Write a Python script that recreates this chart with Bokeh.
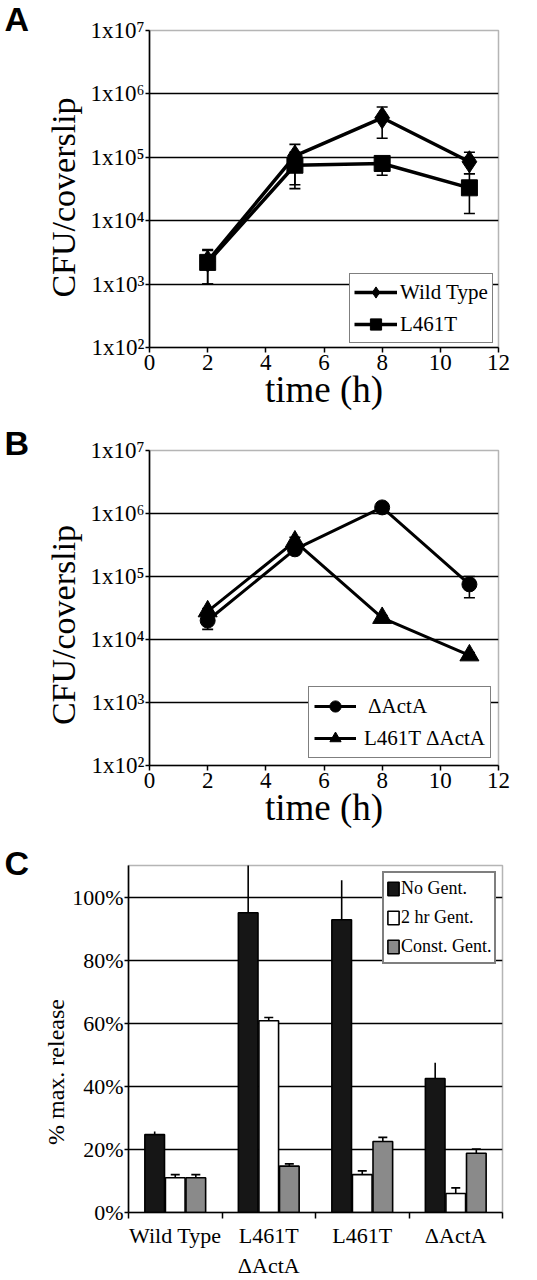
from bokeh.plotting import figure
from bokeh.models import (FixedTicker, Whisker, TeeHead, ColumnDataSource, Legend,
                          LegendItem, Range1d)
from bokeh.embed import file_html
from bokeh.resources import INLINE

SERIF = "Liberation Serif"
SANS = "Liberation Sans"
NBSP = "\u00a0"

# ---------------- data ----------------
time_h = [2, 5, 8, 11]

# Panel A
wt_cfu = [2300, 105000, 420000, 85000]
wt_hi = [3500, 160000, 620000, 120000]
wt_lo = [1000, 37000, 200000, 55000]
l461t_cfu = [2200, 75000, 80000, 33000]
l461t_hi = [3400, 120000, 100000, 55000]
l461t_lo = [1000, 32000, 52000, 13000]

# Panel B
dacta_cfu = [20000, 270000, 1250000, 75000]
dacta_hi = [24000, 310000, 1400000, 100000]
dacta_lo = [14500, 240000, 1100000, 46000]
l461t_dacta_cfu = [28000, 360000, 22000, 5600]
l461t_dacta_hi = [31000, 420000, 24000, 6200]
l461t_dacta_lo = [25000, 330000, 20000, 5100]

log_ticks = [1e2, 1e3, 1e4, 1e5, 1e6, 1e7]
log_tick_labels = ["1x10\u00b2", "1x10\u00b3", "1x10\u2074", "1x10\u2075", "1x10\u2076", "1x10\u2077"]
time_ticks = [0, 2, 4, 6, 8, 10, 12]

# Panel C
strains = ["Wild Type", "L461T\n\u0394ActA", "L461T", "\u0394ActA"]
treatments = ["No Gent.", "2 hr Gent.", "Const. Gent."]
no_gent = [24.7, 95.0, 92.8, 42.5]
no_gent_err = [1.0, 20.0, 12.5, 5.0]
two_hr_gent = [11.0, 60.8, 12.0, 6.0]
two_hr_gent_err = [1.0, 1.0, 1.2, 1.8]
const_gent = [11.0, 14.7, 22.5, 18.8]
const_gent_err = [1.0, 0.7, 1.3, 1.3]
pct_ticks = [0, 20, 40, 60, 80, 100]
pct_labels = ["0%", "20%", "40%", "60%", "80%", "100%"]

W = 537


def style_axes(p, tick_size, label_size):
    for ax in (p.xaxis[0], p.yaxis[0]):
        ax.axis_line_color = "black"
        ax.axis_line_width = 1.6
        ax.major_tick_line_color = "black"
        ax.major_tick_line_width = 1.5
        ax.major_tick_in = 0
        ax.major_tick_out = 5
        ax.minor_tick_line_color = None
        ax.major_label_text_font = SERIF
        ax.major_label_text_font_size = tick_size
        ax.major_label_text_color = "black"
        ax.axis_label_text_font = SERIF
        ax.axis_label_text_font_style = "normal"
        ax.axis_label_text_font_size = label_size
        ax.axis_label_text_color = "black"
    p.outline_line_color = "#b5b5b5"
    p.outline_line_width = 1.5
    p.background_fill_color = "white"
    p.border_fill_color = "white"


def panel_letter(p, text, offset, standoff):
    p.title.text = text
    p.title.align = "left"
    p.title.offset = offset
    p.title.standoff = standoff
    p.title.text_font = SANS
    p.title.text_font_style = "bold"
    p.title.text_font_size = "34px"
    p.title.text_color = "black"


def log_panel(height, top, bottom, series, legend_loc, legend_pad, glyph_w, standoff, ypad):
    p = figure(width=W, height=height, y_axis_type="log",
               x_range=Range1d(0, 12), y_range=Range1d(1e2, 1e7),
               output_backend="svg", toolbar_location=None,
               min_border_left=149, min_border_right=39,
               min_border_top=top, min_border_bottom=bottom)
    style_axes(p, "23px", "37px")
    p.xaxis.ticker = FixedTicker(ticks=time_ticks)
    p.yaxis.ticker = FixedTicker(ticks=log_ticks)
    p.yaxis.major_label_overrides = dict(zip(log_ticks, log_tick_labels))
    p.yaxis.major_label_standoff = 1
    p.yaxis.major_tick_out = 4
    p.xaxis.major_label_standoff = 2
    p.xaxis.axis_label = "time (h)"
    p.xaxis.axis_label_standoff = -4
    p.yaxis.axis_label = "CFU/coverslip" + NBSP * ypad
    p.yaxis.axis_label_text_font_size = "34px"
    p.yaxis.axis_label_standoff = 5
    p.xgrid.visible = False
    p.ygrid.ticker = FixedTicker(ticks=log_ticks[1:-1])
    p.ygrid.grid_line_color = "black"
    p.ygrid.grid_line_width = 1.6

    items = []
    for name, ys, hi, lo, marker, msize, lw in series:
        src = ColumnDataSource(dict(x=time_h, y=ys, hi=hi, lo=lo))
        p.add_layout(Whisker(source=src, base="x", upper="hi", lower="lo",
                             line_color="black", line_width=1.6,
                             upper_head=TeeHead(size=11, line_color="black", line_width=1.6),
                             lower_head=TeeHead(size=11, line_color="black", line_width=1.6)))
        lr = p.line("x", "y", source=src, line_color="black", line_width=lw)
        sr = p.scatter("x", "y", source=src, marker=marker, size=msize,
                       fill_color="black", line_color="black")
        items.append(LegendItem(label=name, renderers=[lr, sr]))
    leg = Legend(items=items, location=legend_loc,
                 label_text_font=SERIF, label_text_font_size="21px",
                 label_text_color="black", glyph_width=glyph_w, glyph_height=28,
                 label_height=28, spacing=4, padding=legend_pad, margin=0,
                 label_standoff=standoff, border_line_color="black", border_line_width=1.6,
                 background_fill_color="white", background_fill_alpha=1.0)
    p.add_layout(leg)
    return p


pA = log_panel(425, 30, 78,
               [("Wild Type", wt_cfu, wt_hi, wt_lo, "diamond", 22, 3.5),
                ("L461T", l461t_cfu, l461t_hi, l461t_lo, "square", 16, 3.5)],
               (200, 4), 4, 43, 3, 2)
panel_letter(pA, "A", -145, -15)

pB = log_panel(408, 25, 68,
               [(" \u0394ActA", dacta_cfu, dacta_hi, dacta_lo, "circle", 15, 3.0),
                ("L461T \u0394ActA", l461t_dacta_cfu, l461t_dacta_hi, l461t_dacta_lo,
                 "triangle", 19, 3.0)],
               (159, 7), 5, 42, 8, 4)
panel_letter(pB, "B", -145, -23)

# ---------------- panel C ----------------
pC = figure(width=W, height=447, x_range=Range1d(0, 4), y_range=Range1d(0, 110),
            output_backend="svg", toolbar_location=None,
            min_border_left=128, min_border_right=35, min_border_top=32,
            min_border_bottom=63)
style_axes(pC, "22px", "24px")
centers = [i + 0.5 for i in range(len(strains))]
pC.xaxis.ticker = FixedTicker(ticks=centers, minor_ticks=list(range(len(strains) + 1)))
pC.xaxis.major_label_overrides = dict(zip(centers, strains))
pC.xaxis.major_tick_out = 0
pC.xaxis.minor_tick_line_color = "black"
pC.xaxis.minor_tick_line_width = 1.5
pC.xaxis.minor_tick_in = 0
pC.xaxis.minor_tick_out = 6
pC.xaxis.major_label_text_font_size = "22px"
pC.xaxis.major_label_standoff = 4
pC.yaxis.ticker = FixedTicker(ticks=pct_ticks)
pC.yaxis.major_label_overrides = dict(zip(pct_ticks, pct_labels))
pC.yaxis.major_label_standoff = 1
pC.yaxis.major_tick_out = 4
pC.yaxis.axis_label = "% max. release" + NBSP * 11
pC.yaxis.axis_label_standoff = 0
pC.xgrid.visible = False
pC.ygrid.ticker = FixedTicker(ticks=pct_ticks[1:])
pC.ygrid.grid_line_color = "black"
pC.ygrid.grid_line_width = 1.6

offsets = [-0.22, 0.0, 0.22]
fills = ["#161616", "white", "#8a8a8a"]
vals = [no_gent, two_hr_gent, const_gent]
errs = [no_gent_err, two_hr_gent_err, const_gent_err]
citems = []
for k, (name, v, e, fc, off) in enumerate(zip(treatments, vals, errs, fills, offsets)):
    xs = [c + off for c in centers]
    hi = [a + b for a, b in zip(v, e)]
    lo = list(v) if k == 0 else [a - b for a, b in zip(v, e)]
    src = ColumnDataSource(dict(x=xs, top=v, hi=hi, lo=lo))
    r = pC.vbar(x="x", top="top", width=0.21, source=src, fill_color=fc,
                line_color="black", line_width=1.6)
    if k == 0:
        wk = Whisker(source=src, base="x", upper="hi", lower="lo", line_color="black",
                     line_width=1.6, upper_head=None, lower_head=None)
    else:
        wk = Whisker(source=src, base="x", upper="hi", lower="lo", line_color="black",
                     line_width=1.6,
                     upper_head=TeeHead(size=9, line_color="black", line_width=1.6),
                     lower_head=TeeHead(size=9, line_color="black", line_width=1.6))
    pC.add_layout(wk)
    citems.append(LegendItem(label=name, renderers=[r]))

legC = Legend(items=citems, location=(254, 248),
              label_text_font=SERIF, label_text_font_size="18px", label_text_color="black",
              glyph_width=14, glyph_height=17, label_height=27, spacing=2, padding=2,
              margin=0, label_standoff=1, border_line_color="black", border_line_width=2,
              background_fill_color="white", background_fill_alpha=1.0)
pC.add_layout(legC)
panel_letter(pC, "C", -124, -33)

open("out.html", "w").write(file_html([pA, pB, pC], INLINE))
